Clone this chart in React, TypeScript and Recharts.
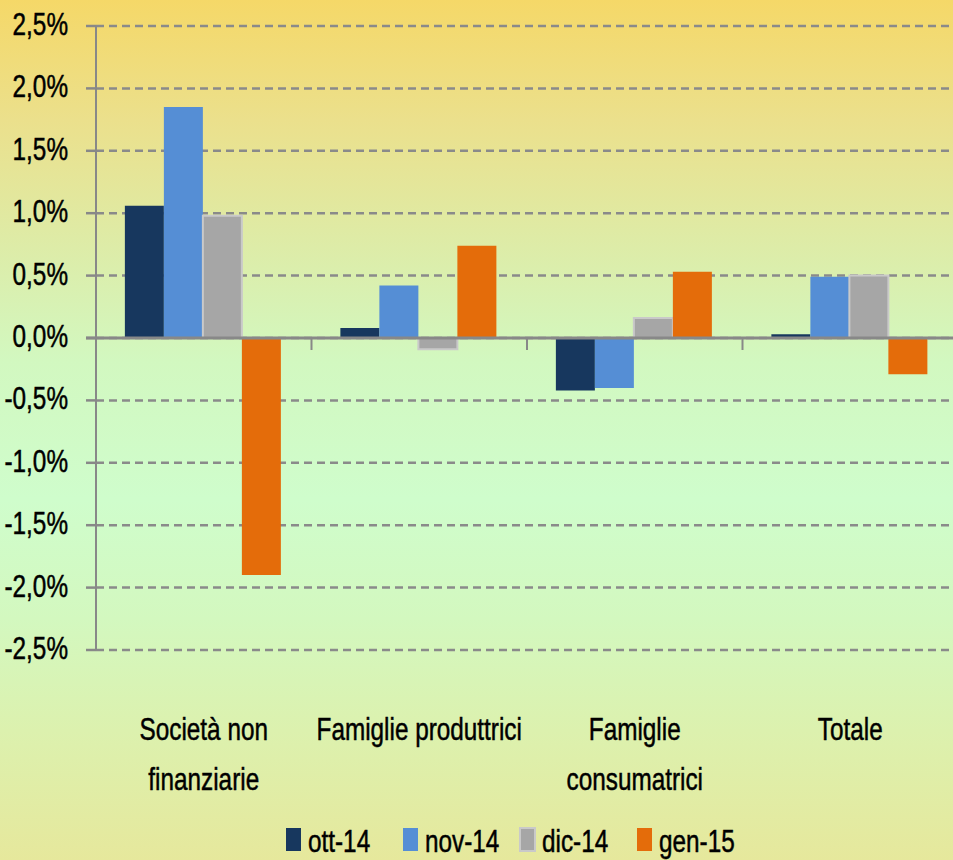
import { BarChart, Bar, XAxis, YAxis, CartesianGrid, Legend, ReferenceLine } from "recharts"

const categories = ["Società non finanziarie", "Famiglie produttrici", "Famiglie consumatrici", "Totale"]
const categoryLines = [["Società non", "finanziarie"], ["Famiglie produttrici"], ["Famiglie", "consumatrici"], ["Totale"]]

const ott14 = [1.06, 0.08, -0.42, 0.03]
const nov14 = [1.85, 0.42, -0.40, 0.49]
const dic14 = [0.98, -0.09, 0.16, 0.50]
const gen15 = [-1.90, 0.74, 0.53, -0.29]

const yTicks = [-2.5, -2.0, -1.5, -1.0, -0.5, 0, 0.5, 1.0, 1.5, 2.0, 2.5]

const series = [
    { key: "ott14", name: "ott-14", color: "#17375e", stroke: "none" },
    { key: "nov14", name: "nov-14", color: "#558ed5", stroke: "none" },
    { key: "dic14", name: "dic-14", color: "#a6a6a6", stroke: "#c9c9c9" },
    { key: "gen15", name: "gen-15", color: "#e46c0a", stroke: "none" },
]

const data = categories.map((c, i) => ({
    category: c,
    ott14: ott14[i],
    nov14: nov14[i],
    dic14: dic14[i],
    gen15: gen15[i],
}))

const FONT = "'Liberation Sans', Arial, sans-serif"
const SQUEEZE = 0.76
const fmt = (v: number) => v.toFixed(1).replace(".", ",") + "%"

const textStyle = { fontSize: 32, fontFamily: FONT, fill: "#000", stroke: "#000", strokeWidth: 0.5 }

const YTick = (props: any) => {
    const { x, y, payload } = props
    return (
        <text transform={`translate(${x},${y + 9}) scale(${SQUEEZE},1)`} textAnchor="end" {...textStyle}>
            {fmt(payload.value)}
        </text>
    )
}

const XTick = (props: any) => {
    const { x, y, index } = props
    const lines = categoryLines[index] || []
    return (
        <g>
            {lines.map((l, i) => (
                <text key={i} transform={`translate(${x},${y + 82 + i * 50}) scale(${SQUEEZE},1)`} textAnchor="middle" {...textStyle}>
                    {l}
                </text>
            ))}
        </g>
    )
}

const ZeroLine = (props: any) => {
    const { x1, x2, y1 } = props
    const step = (x2 - x1) / categories.length
    return (
        <g>
            <line x1={x1 - 10} x2={x2} y1={y1} y2={y1} stroke="#888" strokeWidth={3} />
            {categories.map((_, i) => i > 0 ? (
                <line key={i} x1={x1 + i * step} x2={x1 + i * step} y1={y1} y2={y1 + 12} stroke="#888" strokeWidth={2} />
            ) : null)}
        </g>
    )
}

const LegendBox = () => {
    const pitch = 117
    const start = 286
    return (
        <svg width={953} height={46} style={{ display: "block", overflow: "visible" }}>
            {series.map((s, i) => (
                <g key={s.key}>
                    <rect x={start + i * pitch} y={18} width={15} height={23} fill={s.color} stroke={s.stroke} strokeWidth={s.stroke === "none" ? 0 : 2} />
                    <text transform={`translate(${start + i * pitch + 22},${42}) scale(${SQUEEZE},1)`} {...textStyle}>
                        {s.name}
                    </text>
                </g>
            ))}
        </svg>
    )
}

export default function App() {
    return (
        <div style={{
            position: "fixed", left: 0, top: 0, width: 953, height: 860, overflow: "hidden",
            background: "linear-gradient(to bottom, #f5d868 0%, #ebe08c 14%, #dcedaa 30%, #d2f8c0 42%, #cffdcc 58%, #d3f8bf 72%, #dcf1ae 85%, #e6e89c 100%)",
        }}>
            <BarChart width={963} height={860} data={data} margin={{ top: 26, right: 5, left: 0, bottom: 4 }} barCategoryGap="13.4%" barGap={0}>
                <CartesianGrid horizontal vertical={false} stroke="#8a8a8a" strokeDasharray="8 5" strokeWidth={2.5} />
                <XAxis dataKey="category" height={160} axisLine={false} tickLine={false} tick={<XTick />} interval={0} />
                <YAxis width={96} domain={[-2.5, 2.5]} ticks={yTicks} axisLine={{ stroke: "#888", strokeWidth: 2 }} tickLine={{ stroke: "#888", strokeWidth: 2.5 }} tickSize={10} tickMargin={18} tick={<YTick />} interval={0} />
                {series.map(s => (
                    <Bar key={s.key} dataKey={s.key} name={s.name} fill={s.color} stroke={s.stroke} strokeWidth={s.stroke === "none" ? 0 : 2} isAnimationActive={false} />
                ))}
                <ReferenceLine y={0} shape={<ZeroLine />} />
                <Legend verticalAlign="bottom" content={<LegendBox />} wrapperStyle={{ overflow: "visible" }} />
            </BarChart>
        </div>
    )
}
